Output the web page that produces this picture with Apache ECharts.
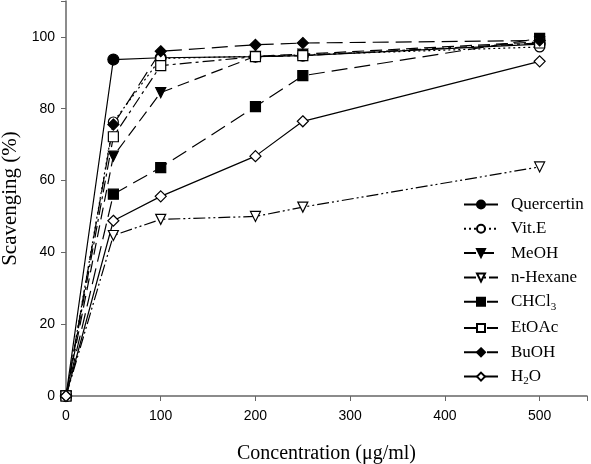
<!DOCTYPE html>
<html>
<head>
<meta charset="utf-8">
<script src="https://cdn.jsdelivr.net/npm/echarts@6/dist/echarts.min.js"></script>
<style>
html,body{margin:0;padding:0;background:#fff;}
#chart{width:591px;height:464px;}
</style>
</head>
<body>
<div id="chart"></div>
<script>
// x values (concentration, ug/ml)
var conc = [0, 50, 100, 200, 250, 500];
var quercertin = [0, 93.7, 94.2, 94.5, 94.8, 98.0];
var vitE = [0, 76.3, 94.0, 94.6, 95.0, 97.2];
var meoh = [0, 66.8, 84.5, 94.6, 95.2, 98.6];
var hexane = [0, 44.7, 49.2, 50.0, 52.6, 63.8];
var chcl3 = [0, 56.2, 63.6, 80.6, 89.2, 99.6];
var etoac = [0, 72.2, 92.0, 94.5, 94.8, 98.3];
var buoh = [0, 75.6, 96.0, 97.8, 98.3, 99.0];
var h2o = [0, 48.8, 55.6, 66.8, 76.5, 93.2];
var xTicks = [0, 100, 200, 300, 400, 500];
var yTicks = [0, 20, 40, 60, 80, 100];

var triDown = 'path://M0,0 L10,0 L5,9 Z';
var diamond = 'path://M5,0 L10,5 L5,10 L0,5 Z';

function pairs(ys){
    return conc.map(function(x, i){ return [x, ys[i]]; });
}

function mk(name, ys, symbol, filled, dash, size){
    return {
        name: name,
        type: 'line',
        data: pairs(ys),
        symbol: symbol,
        symbolSize: size || 10,
        showSymbol: true,
        lineStyle: {color: '#000', width: 1.2, type: dash},
        itemStyle: {color: filled ? '#000' : '#fff', borderColor: '#000', borderWidth: 1.2},
        emphasis: {disabled: true},
        z: 2
    };
}

var chart = echarts.init(document.getElementById('chart'));
var option = {
    animation: false,
    grid: {left: 66, right: 4, top: 1, bottom: 68, containLabel: false, outerBoundsMode: 'none'},
    legend: {
        orient: 'vertical',
        left: 458,
        top: 191,
        itemWidth: 34,
        itemHeight: 10,
        itemGap: 7.3,
        textStyle: {
            fontFamily: 'Liberation Serif', fontSize: 17, lineHeight: 17, color: '#000',
            padding: [0, 0, 0, 8],
            rich: {
                s: {fontFamily: 'Liberation Serif', fontSize: 11, color: '#000', padding: [10, 0, 0, 0]},
                n: {fontFamily: 'Liberation Serif', fontSize: 17, color: '#000'}
            }
        },
        formatter: function(name){
            if (name === 'CHCl3') return '{n|CHCl}{s|3}';
            if (name === 'H2O') return '{n|H}{s|2}{n|O}';
            return name;
        },
        data: ['Quercertin', 'Vit.E', 'MeOH', 'n-Hexane', 'CHCl3', 'EtOAc', 'BuOH', 'H2O']
    },
    xAxis: {
        type: 'value',
        min: 0, max: 550, interval: 100,
        name: 'Concentration (\u03bcg/ml)',
        nameLocation: 'middle',
        nameGap: 48,
        nameTextStyle: {fontFamily: 'Liberation Serif', fontSize: 20, color: '#000'},
        axisLine: {lineStyle: {color: '#666', width: 1.5}},
        axisTick: {length: 5, lineStyle: {color: '#666'}},
        axisLabel: {
            fontFamily: 'Liberation Sans', fontSize: 14, color: '#000', margin: 13,
            formatter: function(v){ return xTicks.indexOf(v) >= 0 ? v : ''; }
        },
        splitLine: {show: false}
    },
    yAxis: {
        type: 'value',
        min: 0, max: 110, interval: 20,
        name: 'Scavenging (%)',
        nameLocation: 'middle',
        nameGap: 36,
        nameTextStyle: {fontFamily: 'Liberation Serif', fontSize: 21, color: '#000'},
        axisLine: {show: true, lineStyle: {color: '#666', width: 1.5}},
        axisTick: {show: true, length: 5, lineStyle: {color: '#666'}},
        axisLabel: {
            fontFamily: 'Liberation Sans', fontSize: 14, color: '#000', margin: 11,
            formatter: function(v){ return yTicks.indexOf(v) >= 0 ? v : ''; }
        },
        splitLine: {show: false}
    },
    series: [
        mk('Quercertin', quercertin, 'circle', true, 'solid', 11),
        mk('Vit.E', vitE, 'circle', false, [2, 3]),
        mk('MeOH', meoh, triDown, true, [12, 6]),
        mk('n-Hexane', hexane, triDown, false, [12, 3, 2, 3, 2, 3]),
        mk('CHCl3', chcl3, 'rect', true, [16, 7]),
        mk('EtOAc', etoac, 'rect', false, [12, 4, 3, 4]),
        mk('BuOH', buoh, diamond, true, [16, 7], 11),
        mk('H2O', h2o, diamond, false, 'solid', 11)
    ]
};
chart.setOption(option);
</script>
</body>
</html>
